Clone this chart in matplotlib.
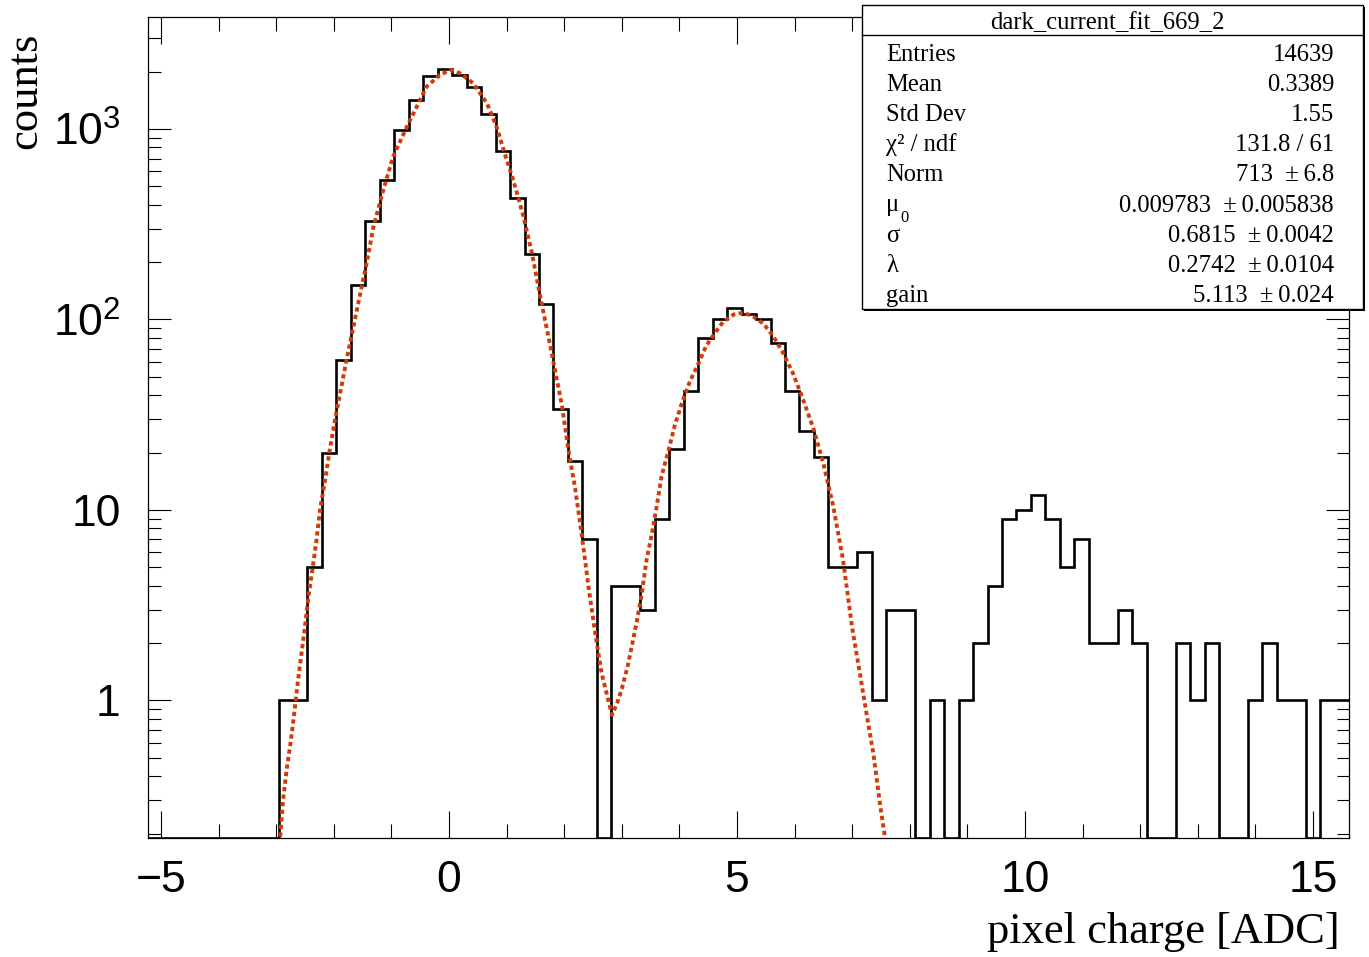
import matplotlib
matplotlib.use("Agg")
import matplotlib.pyplot as plt
import numpy as np
from matplotlib.patches import Rectangle
from matplotlib.ticker import FixedLocator, LogLocator, NullFormatter, MultipleLocator

plt.rcParams["mathtext.fontset"] = "custom"
plt.rcParams["mathtext.sf"] = "Liberation Sans"
plt.rcParams["mathtext.rm"] = "Liberation Sans"

# histogram: 83 bins between x_lo and x_hi
x_lo, x_hi, n_bins = -5.22, 15.63, 83
counts = [0, 0, 0, 0, 0, 0, 0, 0, 0,
          1, 1, 5, 20, 61, 151, 330, 538, 988, 1426,
          1892, 2067, 1920, 1667, 1199, 767, 433, 221, 120, 34,
          18, 7, 0, 4, 4, 3, 9, 21, 42, 80,
          100, 115, 107, 100, 75, 42, 26, 19, 5, 5,
          6, 1, 3, 3, 0, 1, 0, 1, 2, 4,
          9, 10, 12, 9, 5, 7, 2, 2, 3, 2,
          0, 0, 2, 1, 2, 0, 0, 1, 2, 1,
          1, 0, 1, 1]

# fit curve
fit_x = [-2.93, -2.88, -2.82, -2.76, -2.70, -2.62, -2.56, -2.50, -2.44, -2.38,
         -2.30, -2.24, -2.15, -2.07, -1.98, -1.78, -1.60, -1.43, -1.31, -1.14,
         -0.97, -0.73, -0.56, -0.39, -0.16, 0.02, 0.19, 0.42, 0.66, 0.83,
         0.97, 1.12, 1.29, 1.44, 1.58, 1.72, 1.84, 1.96, 2.07, 2.19,
         2.30, 2.42, 2.54, 2.65, 2.77, 2.83, 2.91, 3.00, 3.11, 3.26,
         3.35, 3.43, 3.52, 3.61, 3.69, 3.81, 3.92, 4.04, 4.18, 4.33,
         4.47, 4.62, 4.76, 4.94, 5.11, 5.28, 5.46, 5.63, 5.80, 5.98,
         6.15, 6.33, 6.50, 6.67, 6.84, 7.00, 7.14, 7.25, 7.37, 7.48, 7.57]
fit_y = [0.193, 0.30, 0.43, 0.57, 0.79, 1.28, 1.77, 2.44, 3.5, 4.65,
         6.96, 10.0, 14.4, 20.6, 29.7, 61, 112, 197, 307, 478,
         716, 1028, 1309, 1667, 1920, 2042, 1961, 1738, 1364, 1020,
         740, 535, 350, 223, 134, 83, 54.5, 35.6, 20.9, 13.0,
         7.6, 4.0, 2.24, 1.39, 0.99, 0.84, 0.95, 1.15, 1.55, 2.59,
         3.68, 5.47, 7.44, 10.6, 15.0, 20.5, 27.8, 36.2, 47.1, 58.7,
         73.1, 85.3, 97.3, 106.2, 108.6, 103.8, 95.1, 81.6, 66.9, 51.5,
         37.8, 26.6, 17.5, 10.5, 5.5, 2.4, 1.35, 0.85, 0.52, 0.29, 0.19]

x_ticks = [-5, 0, 5, 10, 15]
y_ticks = [1, 10, 100, 1000]
y_tick_labels = ["1", "10", r"$\mathsf{10^{2}}$", r"$\mathsf{10^{3}}$"]

box_title = "dark_current_fit_669_2"
stat_names = ["Entries", "Mean", "Std Dev", "\u03c7\u00b2 / ndf", "Norm", "\u03bc", "\u03c3", "\u03bb", "gain"]
stat_values = ["14639", "0.3389", "1.55", "131.8 / 61", "713  \u00b1\u20096.8",
               "0.009783  \u00b1\u20090.005838", "0.6815  \u00b1\u20090.0042",
               "0.2742  \u00b1\u20090.0104", "5.113  \u00b1\u20090.024"]

W, H = 1369, 957
y_lo, y_hi = 0.1897, 3886

fig = plt.figure(figsize=(W / 100, H / 100), dpi=100)
ax = fig.add_axes([148.3 / W, 1 - 838 / H, (1349.3 - 148.3) / W, (838 - 16.7) / H])

edges = np.linspace(x_lo, x_hi, n_bins + 1)
vals = np.array(counts, dtype=float)
vals = np.where(vals > 0, vals, y_lo)
ax.stairs(vals, edges, color="black", lw=1.9, baseline=None, zorder=3)
ax.plot(fit_x, fit_y, color="#d4390a", lw=2.8, linestyle=(0, (1.1, 0.85)), zorder=4)

ax.set_yscale("log")
ax.set_xlim(x_lo, x_hi)
ax.set_ylim(y_lo, y_hi)

ax.xaxis.set_major_locator(FixedLocator(x_ticks))
ax.xaxis.set_minor_locator(MultipleLocator(1))
ax.yaxis.set_major_locator(FixedLocator(y_ticks))
ax.yaxis.set_major_formatter(plt.FixedFormatter(y_tick_labels))
ax.yaxis.set_minor_locator(LogLocator(base=10, subs=np.arange(2, 10)))
ax.yaxis.set_minor_formatter(NullFormatter())

ax.tick_params(axis="both", which="both", direction="in", top=True, right=True,
               width=0.8, color="black")
ax.tick_params(axis="x", which="major", length=19.5, pad=16)
ax.tick_params(axis="x", which="minor", length=10)
ax.tick_params(axis="y", which="major", length=16.5, pad=20)
ax.tick_params(axis="y", which="minor", length=9)
for lab in ax.get_xticklabels() + ax.get_yticklabels():
    lab.set_fontfamily("Liberation Sans")
    lab.set_fontsize(32)
for sp in ax.spines.values():
    sp.set_linewidth(0.9)

# overlay in pixel coordinates for texts and stats box
ov = fig.add_axes([0, 0, 1, 1])
ov.set_xlim(0, W)
ov.set_ylim(H, 0)
ov.axis("off")

serif = "Liberation Serif"
ov.text(25, 33, "counts", rotation=90, ha="center", va="top", fontsize=32, family=serif)
ov.text(1340, 943, "pixel charge [ADC]", ha="right", va="baseline", fontsize=32, family=serif)

ov.add_patch(Rectangle((864, 7), 501, 304, fc="black", ec="none", zorder=5))
ov.add_patch(Rectangle((862, 5), 501, 304, fc="white", ec="black", lw=1.0, zorder=6))
ov.plot([862, 1363], [34.5, 34.5], color="black", lw=1.0, zorder=7)
ov.text(1107, 29, box_title, ha="center", va="baseline", fontsize=17.7, family=serif, zorder=8)

for i, (name, val) in enumerate(zip(stat_names, stat_values)):
    base = 61 + 30.1 * i
    ov.text(886, base, name, ha="left", va="baseline", fontsize=17.7, family=serif, zorder=8)
    ov.text(1334, base, val, ha="right", va="baseline", fontsize=17.7, family=serif, zorder=8)
    if name == "\u03bc":
        ov.text(900, base + 10, "0", ha="left", va="baseline", fontsize=12, family=serif, zorder=8)

fig.savefig("out.png", dpi=100)
